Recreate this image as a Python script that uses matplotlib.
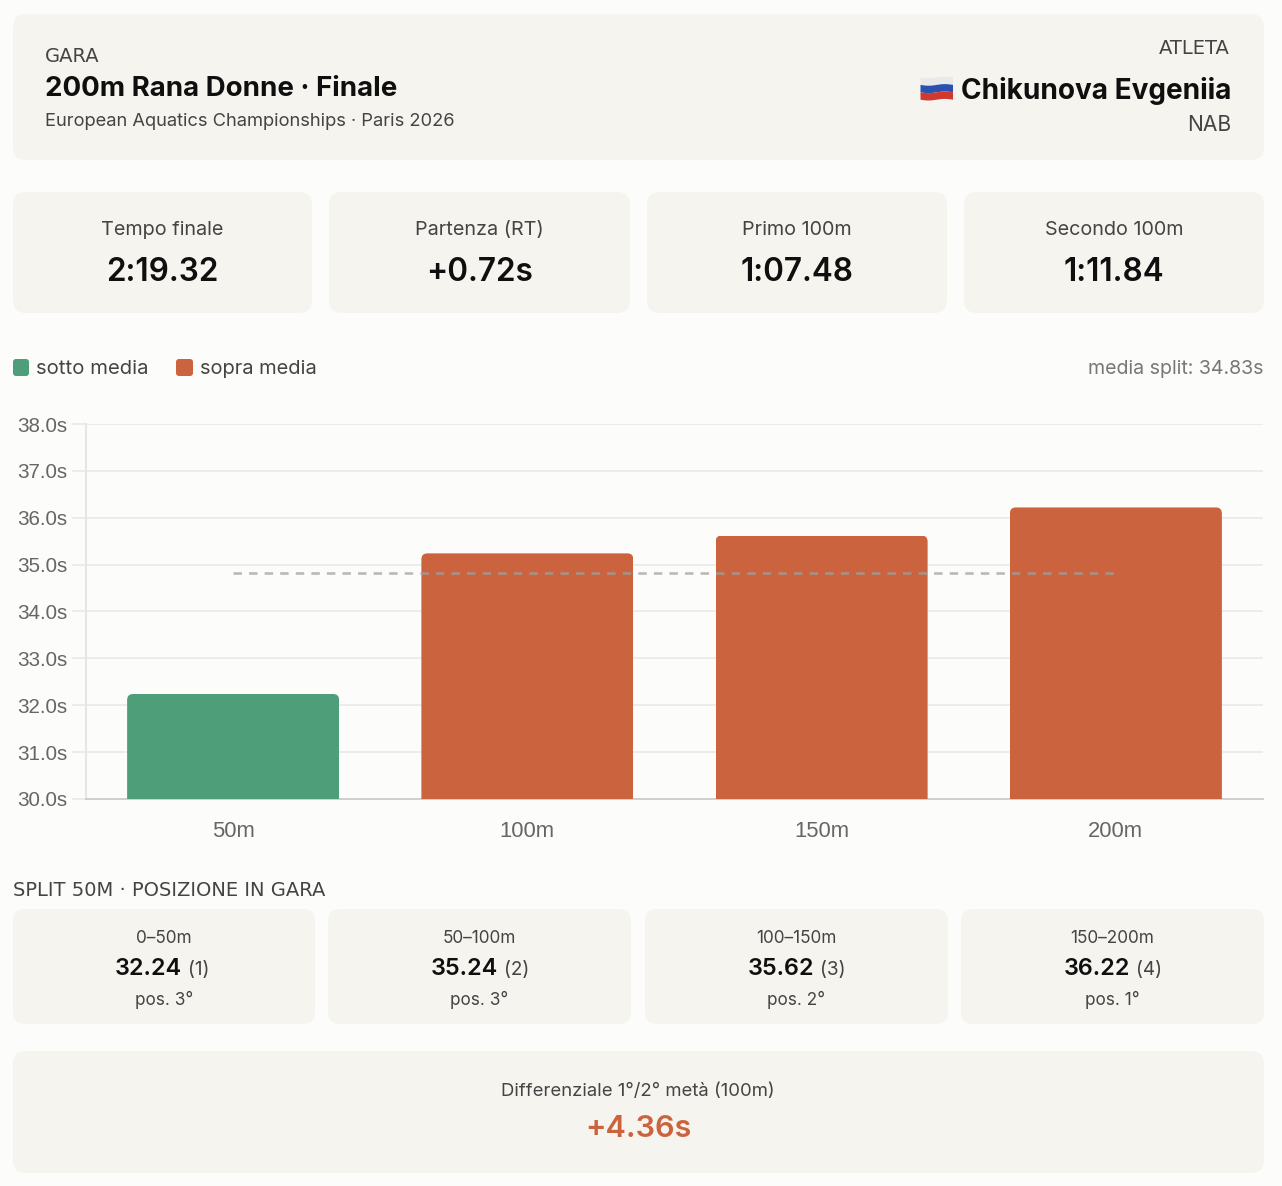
import numpy as np
import matplotlib
matplotlib.use('Agg')
import matplotlib.pyplot as plt
from matplotlib.patches import FancyBboxPatch

# data
distances = ['50m', '100m', '150m', '200m']
splits = [32.24, 35.24, 35.62, 36.22]
bar_colors = ['#4e9e7a', '#cb633e', '#cb633e', '#cb633e']
avg_split = 34.83
y_ticks = [30, 31, 32, 33, 34, 35, 36, 37, 38]

kpi_labels = ['Tempo finale', 'Partenza (RT)', 'Primo 100m', 'Secondo 100m']
kpi_values = ['2:19.32', '+0.72s', '1:07.48', '1:11.84']

split_ranges = ['0–50m', '50–100m', '100–150m', '150–200m']
split_times = ['32.24', '35.24', '35.62', '36.22']
split_notes = ['(1)', '(2)', '(3)', '(4)']
split_pos = ['pos. 3°', 'pos. 3°', 'pos. 2°', 'pos. 1°']

W, H = 1282, 1186
BG = '#fcfcfa'
CARD = '#f5f4ef'
INK = '#0f0f0f'
MID = '#444444'
UI = ['Inter', 'DejaVu Sans']
CAPS = ['DejaVu Sans']

def pt(px):
    return px * 0.72

fig = plt.figure(figsize=(W / 100, H / 100), dpi=100, facecolor=BG)

# page layer, in pixels
page = fig.add_axes([0, 0, 1, 1])
page.set_xlim(0, W)
page.set_ylim(H, 0)
page.axis('off')

def card(x0, x1, y0, y1, color=CARD, r=13):
    page.add_patch(FancyBboxPatch((x0, y0), x1 - x0, y1 - y0,
                                  boxstyle=f'round,pad=0,rounding_size={r}',
                                  fc=color, ec='none'))

def txt(x, y, s, size, color=INK, weight='normal', ha='center', family=UI):
    page.text(x, y, s, fontsize=pt(size), color=color, fontweight=weight,
              ha=ha, va='center_baseline', family=family)

# header
card(13, 1264, 14, 160)
txt(45, 54, 'GARA', 19.5, MID, ha='left', family=CAPS)
txt(45, 86, '200m Rana Donne · Finale', 27.7, INK, 'bold', ha='left')
txt(45, 119, 'European Aquatics Championships · Paris 2026', 18.3, MID, ha='left')
txt(1230, 47, 'ATLETA', 19.5, MID, ha='right', family=CAPS)
txt(1231, 88, 'Chikunova Evgeniia', 28, INK, 'bold', ha='right')
txt(1231, 123, 'NAB', 21, MID, ha='right')

# flag, the reference has an emoji here
fx = np.linspace(920, 952.5, 30)
wave = 0.8 * np.sin((fx - 920) / 32.5 * 2 * np.pi)
for i, c in enumerate(['#e9e9ec', '#2a50b0', '#d0392f']):
    page.fill_between(fx, 77 + i * 7.4 + wave, 77 + (i + 1) * 7.4 + wave, color=c, lw=0)

# kpi cards
kpi_x = [(13, 312), (329, 630), (647, 947), (964, 1264)]
for (x0, x1), lab, val in zip(kpi_x, kpi_labels, kpi_values):
    card(x0, x1, 192, 313)
    cx = (x0 + x1) / 2
    txt(cx, 228, lab, 19.8, MID)
    txt(cx, 269, val, 31.5, INK, 'semibold')

# legend row
card(13, 29, 359, 376, '#4e9e7a', 3)
txt(36, 367, 'sotto media', 20.3, MID, ha='left')
card(176, 193, 359, 376, '#cb633e', 3)
txt(200, 367, 'sopra media', 20.1, MID, ha='left')
txt(1263, 367, f'media split: {avg_split:.2f}s', 19.5, '#777777', ha='right')

# chart
L, R, T, B = 86, 1263, 424, 799
ax = fig.add_axes([L / W, 1 - B / H, (R - L) / W, (B - T) / H])
ax.patch.set_alpha(0)
ax.set_xlim(-0.5, 3.5)
ax.set_ylim(30, 38)
ax.set_axisbelow(True)
ax.grid(axis='y', color='#ececea', lw=1.4)
bar_w = 212 / ((R - L) / 4)
bars = ax.bar(range(len(splits)), splits, width=bar_w, color=bar_colors, bottom=0, zorder=3)

# rounded top corners, clip each bar to a rounded box
px_x = (R - L) / 4
px_y = (B - T) / 8
for b in bars:
    clip = FancyBboxPatch((b.get_x(), 29), b.get_width(), b.get_height() - 29,
                          boxstyle=f'round,pad=0,rounding_size={6 / px_x}',
                          mutation_aspect=px_x / px_y, transform=ax.transData)
    b.set_clip_path(clip)

ax.plot([0, 3], [avg_split, avg_split], color='#a0a0a0', alpha=0.72, lw=1.9,
        dashes=(3.2, 2.7), zorder=4)

ax.set_xticks(range(len(distances)))
ax.set_xticklabels(distances)
ax.set_yticks(y_ticks)
ax.set_yticklabels([f'{v:.1f}s' for v in y_ticks])
ax.tick_params(axis='y', length=pt(14), width=1.4, color='#ececea', pad=pt(5),
               labelsize=pt(20.7), labelcolor='#666666')
ax.tick_params(axis='x', length=0, pad=pt(22), labelsize=pt(22), labelcolor='#666666')
for lab in ax.get_xticklabels() + ax.get_yticklabels():
    lab.set_family('Liberation Sans')
for s in ['top', 'right']:
    ax.spines[s].set_visible(False)
ax.spines['left'].set_color('#e6e6e4')
ax.spines['left'].set_linewidth(1.5)
ax.spines['bottom'].set_color('#cfcfcd')
ax.spines['bottom'].set_linewidth(1.4)

# split cards
txt(13, 888, 'SPLIT 50M · POSIZIONE IN GARA', 19.5, MID, ha='left', family=CAPS)
split_x = [(13, 315), (328, 631), (645, 948), (961, 1264)]
for (x0, x1), rng, t, note, pos in zip(split_x, split_ranges, split_times, split_notes, split_pos):
    card(x0, x1, 909, 1024, r=12)
    cx = (x0 + x1) / 2
    txt(cx, 936.5, rng, 17.2, MID)
    txt(cx + 18, 966.5, t, 23.5, INK, 'semibold', ha='right')
    txt(cx + 24, 968, note, 19, MID, ha='left')
    txt(cx, 997.5, pos, 17.2, MID)

# differential
card(13, 1264, 1051, 1173)
txt(638, 1089.5, 'Differenziale 1°/2° metà (100m)', 18.5, MID)
txt(638, 1126, '+4.36s', 30.5, '#cb633e', 'semibold')

fig.savefig('out.png', dpi=100, facecolor=BG)
